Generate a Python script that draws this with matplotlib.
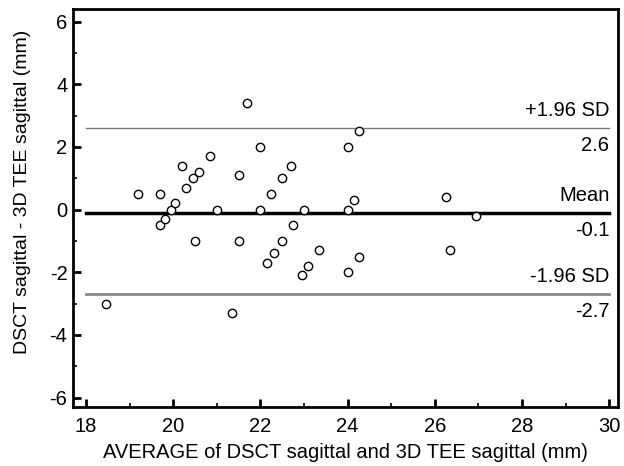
import numpy as np
import matplotlib.pyplot as plt
import matplotlib

matplotlib.rcParams['font.family'] = ['Liberation Sans', 'DejaVu Sans']
matplotlib.rcParams['axes.unicode_minus'] = False

# Bland-Altman: average vs difference (mm)
avg = [18.45, 19.2, 19.7, 19.7, 19.8, 19.95, 20.05, 20.2, 20.3, 20.45,
       20.5, 20.6, 20.85, 21.0, 21.35, 21.5, 21.5, 21.7, 22.0, 22.0,
       22.15, 22.25, 22.3, 22.5, 22.5, 22.7, 22.75, 22.95, 23.0, 23.1,
       23.35, 24.0, 24.0, 24.0, 24.15, 24.25, 24.25, 26.25, 26.35, 26.95]
diff = [-3.0, 0.5, 0.5, -0.5, -0.3, 0.0, 0.2, 1.4, 0.7, 1.0,
        -1.0, 1.2, 1.7, 0.0, -3.3, 1.1, -1.0, 3.4, 2.0, 0.0,
        -1.7, 0.5, -1.4, 1.0, -1.0, 1.4, -0.5, -2.1, 0.0, -1.8,
        -1.3, 2.0, 0.0, -2.0, 0.3, 2.5, -1.5, 0.4, -1.3, -0.2]

mean_d = -0.1
upper = 2.6
lower = -2.7

fs = 14.5
fig = plt.figure(figsize=(6.24, 4.66), dpi=100)
ax = fig.add_axes([73/624, 1 - 407/466, (618-73)/624, (407-9)/466])

ax.plot([18, 30], [upper, upper], color='#777777', lw=1.0)
ax.plot([18, 30], [mean_d, mean_d], color='black', lw=2.5)
ax.plot([18, 30], [lower, lower], color='#888888', lw=2.0)
ax.plot(avg, diff, 'o', mfc='white', mec='black', ms=6, mew=1.0, zorder=3)

ax.text(30, upper + 0.25, '+1.96 SD', ha='right', va='bottom', fontsize=fs)
ax.text(30, upper - 0.25, '2.6', ha='right', va='top', fontsize=fs)
ax.text(30, mean_d + 0.25, 'Mean', ha='right', va='bottom', fontsize=fs)
ax.text(30, mean_d - 0.25, '-0.1', ha='right', va='top', fontsize=fs)
ax.text(30, lower + 0.25, '-1.96 SD', ha='right', va='bottom', fontsize=fs)
ax.text(30, lower - 0.25, '-2.7', ha='right', va='top', fontsize=fs)

ax.set_xlim(17.7, 30.2)
ax.set_ylim(-6.3, 6.4)
ax.set_xticks([18, 20, 22, 24, 26, 28, 30])
ax.set_xticks([19, 21, 23, 25, 27, 29], minor=True)
ax.set_yticks([-6, -4, -2, 0, 2, 4, 6])
ax.set_yticks([-5, -3, -1, 1, 3, 5], minor=True)
ax.tick_params(which='major', direction='in', length=6, width=2, labelsize=fs)
ax.tick_params(axis='x', which='major', pad=7)
ax.tick_params(axis='y', which='major', pad=4)
ax.tick_params(which='minor', direction='in', length=3, width=1.2)
for s in ax.spines.values():
    s.set_linewidth(2)

ax.set_xlabel('AVERAGE of DSCT sagittal and 3D TEE sagittal (mm)', fontsize=fs, labelpad=5)
ax.set_ylabel('DSCT sagittal - 3D TEE sagittal (mm)', fontsize=14)
ax.yaxis.set_label_coords(-0.077, 0.54)

fig.savefig('out.png', dpi=100)
